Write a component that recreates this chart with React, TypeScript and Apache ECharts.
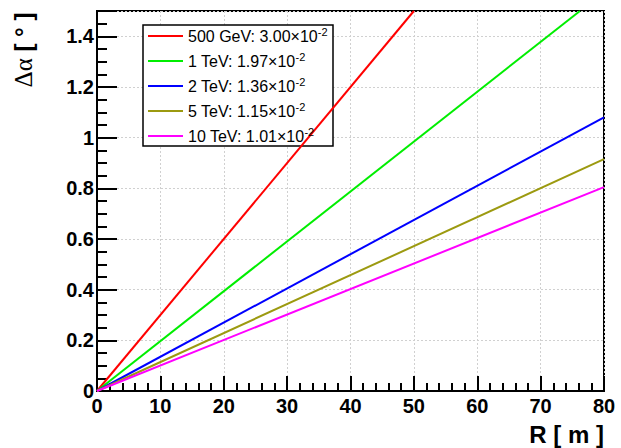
import React, { useEffect, useRef } from "react";
import * as echarts from "echarts";

// Series names and fit slopes shown in the legend
const seriesNames = ["500 GeV", "1 TeV", "2 TeV", "5 TeV", "10 TeV"];
const slopeLabels = ["3.00", "1.97", "1.36", "1.15", "1.01"];
const slopeExponent = "-2";
const seriesColors = ["#ff0000", "#00ee00", "#0000ff", "#9c9a10", "#ff00ff"];

// [R (m), Δα (deg)] points
const data500GeV = [[0, 0], [50, 1.5]];
const data1TeV = [[0, 0], [76.2, 1.5]];
const data2TeV = [[0, 0], [80, 1.08]];
const data5TeV = [[0, 0], [80, 0.915]];
const data10TeV = [[0, 0], [80, 0.805]];
const allData = [data500GeV, data1TeV, data2TeV, data5TeV, data10TeV];

// Axis ranges
const xRange = [0, 80];
const xStep = 10;
const yRange = [0, 1.5];
const yStep = 0.2;

const FONT = '"Liberation Sans", Arial, Helvetica, sans-serif';

export default function App() {
  const ref = useRef<HTMLDivElement>(null);
  useEffect(() => {
    if (!ref.current) return;
    const chart = echarts.init(ref.current, null, { renderer: "svg" });
    const axisLabel = { fontFamily: FONT, fontWeight: "bold", fontSize: 20, color: "#000" };
    const option: any = {
      animation: false,
      backgroundColor: "#fff",
      grid: {
        left: 97,
        right: 17,
        top: 11,
        bottom: 57,
        show: true,
        borderColor: "#000",
        borderWidth: 2,
        backgroundColor: "transparent",
      },
      xAxis: {
        type: "value",
        min: xRange[0],
        max: xRange[1],
        interval: xStep,
        axisLine: { show: true, onZero: false, lineStyle: { color: "#000", width: 2 } },
        axisTick: { show: true, inside: true, length: 15, lineStyle: { color: "#000", width: 2 } },
        minorTick: { show: true, splitNumber: 5, length: 8, lineStyle: { color: "#000", width: 2 } },
        axisLabel: { ...axisLabel, margin: 5 },
        splitLine: { show: true, lineStyle: { color: "#d0d0d0", width: 1, type: [2, 2] } },
      },
      yAxis: {
        type: "value",
        min: yRange[0],
        max: yRange[1],
        interval: yStep,
        axisLine: { show: true, onZero: false, lineStyle: { color: "#000", width: 2 } },
        axisTick: { show: true, inside: true, length: 20, lineStyle: { color: "#000", width: 2 } },
        minorTick: { show: true, splitNumber: 4, length: 10, lineStyle: { color: "#000", width: 2 } },
        axisLabel: { ...axisLabel, margin: 3, showMaxLabel: false },
        splitLine: { show: true, lineStyle: { color: "#d0d0d0", width: 1, type: [2, 2] } },
      },
      legend: {
        orient: "vertical",
        left: 148,
        top: 26,
        padding: 0,
        icon: "rect",
        itemWidth: 35,
        itemHeight: 2,
        itemGap: 5,
        selectedMode: false,
        z: 5,
        data: seriesNames,
        formatter: (name: string) => {
          const i = seriesNames.indexOf(name);
          return `{a|${name}: ${slopeLabels[i]}×10}{s|${slopeExponent}}`;
        },
        textStyle: {
          rich: {
            a: { fontFamily: FONT, fontSize: 16, color: "#000", lineHeight: 17 },
            s: { fontFamily: FONT, fontSize: 11, color: "#000", lineHeight: 8, padding: [0, 0, 9, 0] },
          },
        },
      },
      series: seriesNames.map((name, i) => ({
        name,
        type: "line",
        data: allData[i],
        showSymbol: false,
        symbol: "none",
        clip: true,
        color: seriesColors[i],
        lineStyle: { color: seriesColors[i], width: 2 },
      })),
      graphic: [
        {
          type: "rect",
          z: 3,
          shape: { x: 143, y: 25, width: 190, height: 121 },
          style: { fill: "#fff", stroke: "#000", lineWidth: 1.5 },
        },
        {
          type: "text",
          x: 23,
          y: 50,
          rotation: Math.PI / 2,
          style: {
            text: "{g|Δα}{b| [ ° ]}",
            align: "center",
            verticalAlign: "middle",
            rich: {
              g: { fontFamily: '"Liberation Serif", "DejaVu Serif", serif', fontSize: 25, fill: "#000" },
              b: { fontFamily: FONT, fontWeight: "bold", fontSize: 24, fill: "#000" },
            },
          },
        },
        {
          type: "text",
          x: 604,
          y: 434,
          style: {
            text: "R [ m ]",
            font: `bold 24px ${FONT}`,
            fill: "#000",
            align: "right",
            verticalAlign: "middle",
          },
        },
      ],
    };
    chart.setOption(option);
    return () => chart.dispose();
  }, []);
  return (
    <div
      ref={ref}
      style={{ position: "fixed", left: 0, top: 0, width: 621, height: 448, background: "#fff" }}
    />
  );
}
